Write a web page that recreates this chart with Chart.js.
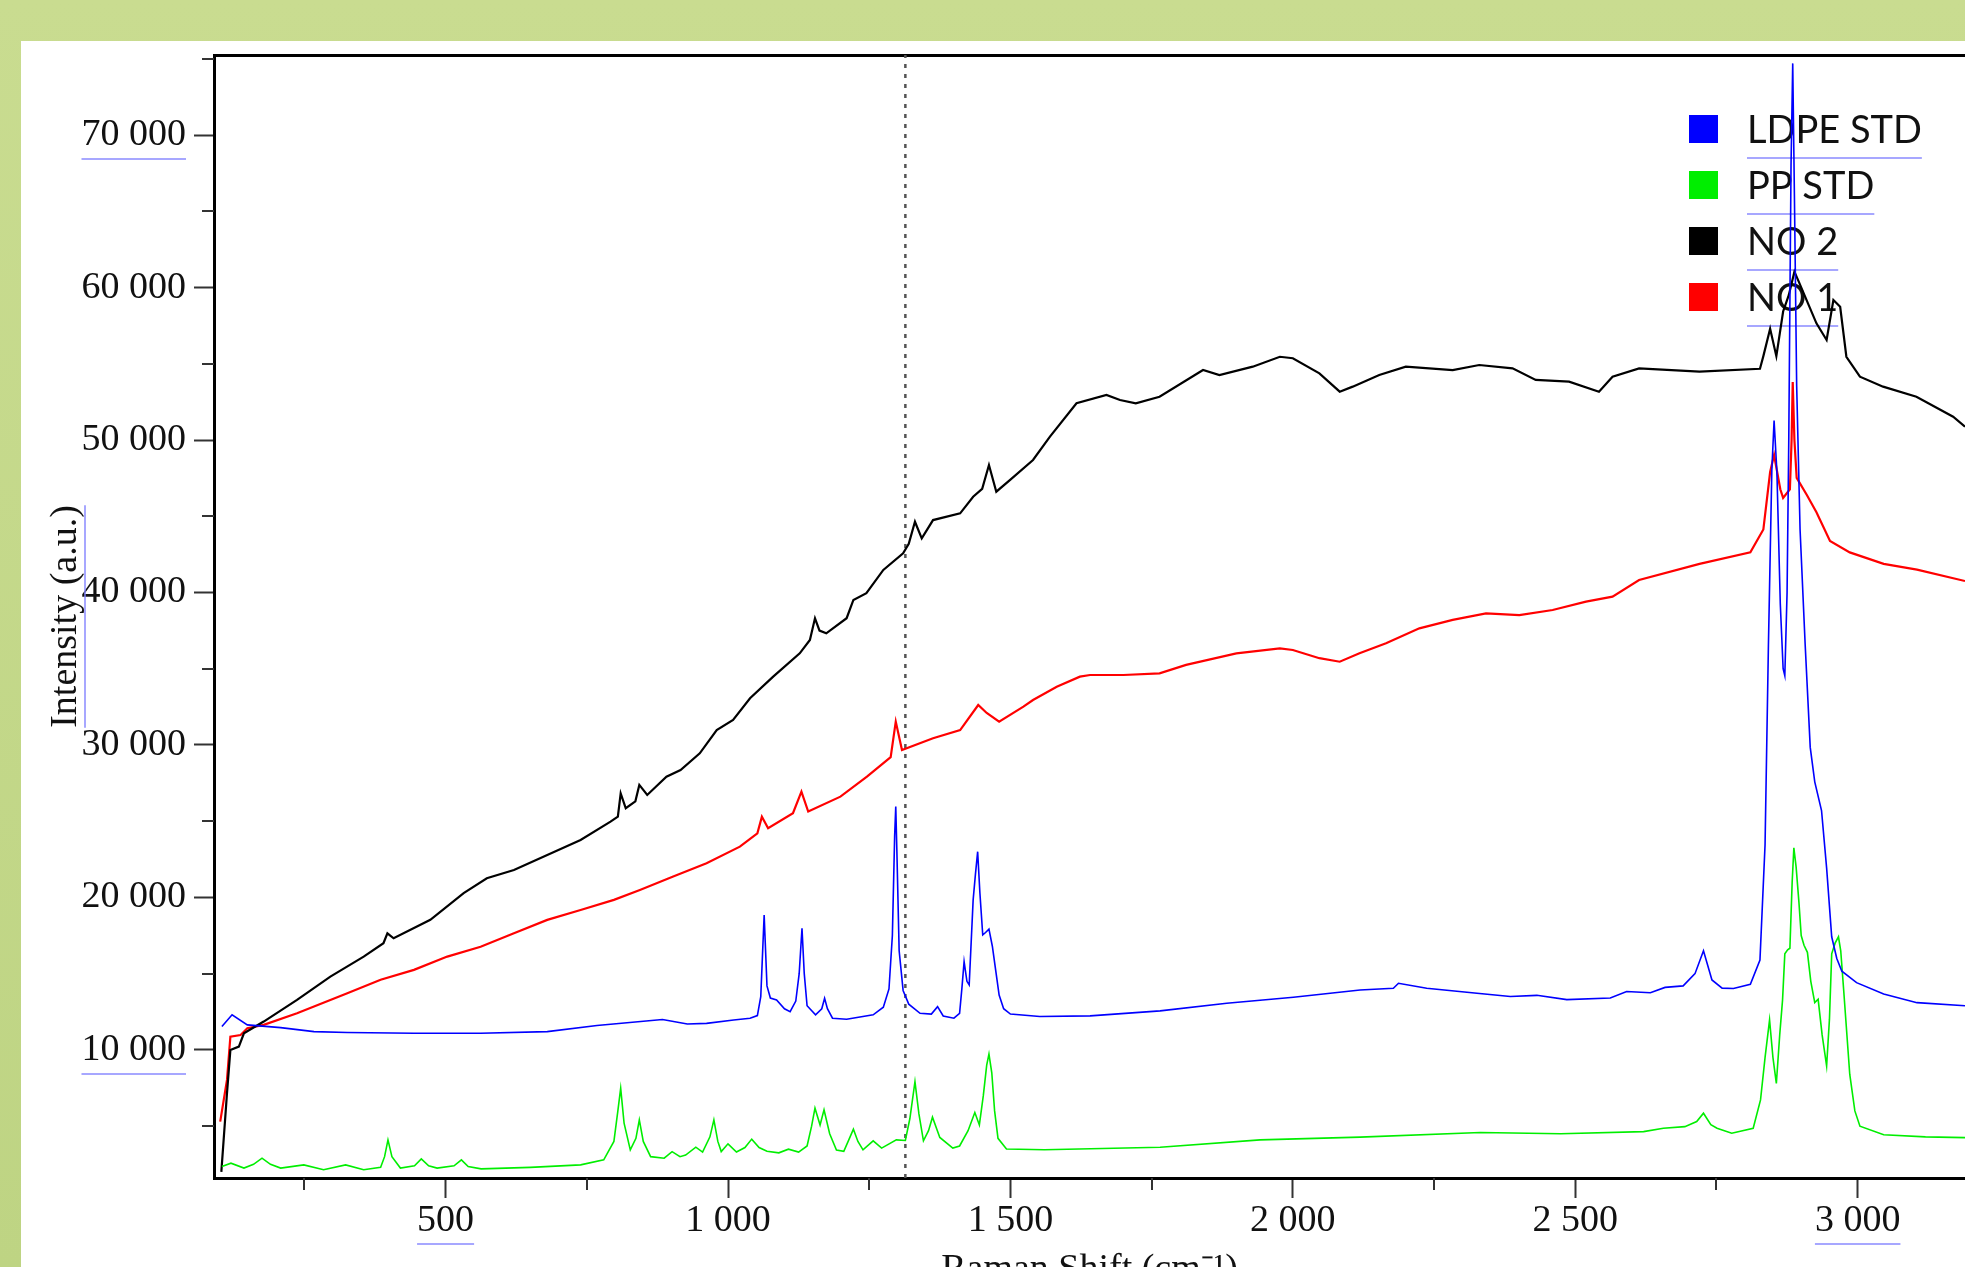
<!DOCTYPE html>
<html>
<head>
<meta charset="utf-8">
<title>Raman spectra</title>
<script src="https://cdn.jsdelivr.net/npm/chart.js@4.4.1/dist/chart.umd.min.js"></script>
<style>
  html, body { margin: 0; padding: 0; overflow: hidden; }
  body { width: 1965px; height: 1267px; position: relative;
         background: linear-gradient(180deg, #c9dc90 0%, #bed483 100%); }
  #sheet { position: absolute; left: 21px; top: 41px; right: 0; bottom: 0; background: #fff; }
  #spectra { position: absolute; left: 0; top: 0; }
</style>
</head>
<body>
<div id="sheet"></div>
<canvas id="spectra" width="1965" height="1267"></canvas>
<script>
// Raman shift (cm-1), intensity (a.u.)
const ldpe = [[104,11530],[122,12300],[149,11640],[208,11460],[267,11200],[326,11140],[444,11090],[562,11090],[680,11200],[768,11600],[884,11990],[928,11700],[962,11740],[1010,11960],[1039,12080],[1052,12250],[1058,13500],[1064,18850],[1069,14200],[1075,13400],[1086,13280],[1100,12700],[1110,12510],[1120,13200],[1126,15000],[1131,17980],[1135,15000],[1140,12900],[1155,12300],[1166,12700],[1171,13390],[1176,12700],[1185,12080],[1210,12010],[1257,12300],[1275,12800],[1285,14000],[1291,17500],[1295,24000],[1297,25960],[1299,23000],[1303,16500],[1310,13900],[1320,13000],[1340,12400],[1360,12350],[1371,12840],[1381,12230],[1400,12080],[1410,12400],[1414,14000],[1418,15790],[1423,14500],[1427,14260],[1434,19840],[1438,21500],[1442,23000],[1446,20280],[1451,17540],[1456,17700],[1462,17920],[1468,16800],[1474,15200],[1480,13600],[1488,12700],[1500,12350],[1552,12190],[1641,12230],[1765,12560],[1883,13060],[2001,13450],[2119,13930],[2178,14040],[2187,14370],[2237,14040],[2326,13720],[2385,13500],[2432,13580],[2485,13300],[2562,13400],[2591,13830],[2633,13750],[2659,14100],[2691,14200],[2712,15000],[2727,16500],[2742,14590],[2760,14050],[2780,14030],[2810,14300],[2827,15900],[2836,23440],[2842,36600],[2848,48000],[2852,51280],[2857,47900],[2863,39240],[2868,35000],[2871,34540],[2875,40000],[2878,50000],[2882,68000],[2885,74700],[2888,66000],[2892,53540],[2898,44130],[2907,36610],[2916,29840],[2924,27580],[2936,25700],[2945,21940],[2954,17420],[2963,16000],[2972,15160],[2998,14410],[3046,13660],[3105,13100],[3190,12900]];

const pp = [[104,2350],[120,2570],[143,2250],[160,2500],[175,2900],[190,2500],[208,2250],[249,2460],[284,2140],[323,2460],[355,2140],[385,2300],[392,3000],[398,4100],[405,3000],[420,2250],[445,2400],[457,2850],[470,2400],[485,2250],[515,2400],[528,2790],[540,2350],[563,2200],[650,2300],[739,2460],[780,2790],[798,4000],[805,6000],[810,7490],[816,5200],[827,3440],[837,4200],[843,5410],[850,4000],[863,3000],[887,2900],[901,3330],[915,3000],[925,3100],[943,3620],[955,3300],[968,4300],[975,5410],[982,4000],[988,3330],[1000,3840],[1015,3300],[1030,3600],[1042,4150],[1055,3600],[1069,3350],[1090,3250],[1107,3490],[1125,3300],[1140,3700],[1148,5000],[1154,6180],[1163,5080],[1170,6070],[1180,4500],[1192,3440],[1205,3350],[1215,4200],[1222,4800],[1230,4000],[1239,3450],[1257,4040],[1272,3560],[1298,4100],[1314,4060],[1322,5500],[1331,7920],[1338,5800],[1346,4040],[1355,4700],[1362,5590],[1375,4260],[1398,3560],[1410,3700],[1425,4700],[1437,5890],[1445,5080],[1452,7000],[1458,9000],[1462,9730],[1467,8500],[1472,6000],[1478,4200],[1493,3500],[1560,3450],[1765,3620],[1942,4100],[2119,4280],[2332,4580],[2474,4500],[2621,4640],[2656,4860],[2694,4970],[2715,5300],[2727,5850],[2740,5100],[2751,4860],[2777,4540],[2815,4860],[2828,6720],[2836,9500],[2844,11970],[2850,9500],[2856,7800],[2862,11000],[2867,13280],[2871,16300],[2876,16560],[2880,16670],[2884,21000],[2887,23250],[2891,22000],[2896,19680],[2900,17500],[2905,16860],[2911,16400],[2917,14500],[2924,13100],[2930,13320],[2937,11000],[2945,8950],[2950,12000],[2954,16300],[2960,17000],[2966,17420],[2970,16500],[2975,14030],[2986,8390],[2995,6000],[3004,5000],[3046,4440],[3120,4300],[3190,4250]];

const no2 = [[103,2000],[113,7160],[119,10000],[134,10220],[143,11090],[178,11860],[237,13280],[296,14810],[355,16120],[390,17000],[397,17650],[408,17320],[473,18530],[532,20280],[573,21260],[621,21800],[680,22790],[739,23770],[792,24970],[805,25300],[810,26830],[819,25850],[836,26300],[843,27380],[857,26720],[891,27920],[916,28360],[950,29450],[980,30980],[1009,31640],[1039,33060],[1080,34480],[1127,36010],[1145,36890],[1154,38310],[1162,37500],[1174,37320],[1210,38310],[1222,39510],[1245,39950],[1275,41480],[1310,42570],[1320,43200],[1331,44640],[1343,43550],[1363,44750],[1411,45190],[1434,46280],[1450,46800],[1462,48360],[1475,46610],[1500,47400],[1540,48690],[1570,50220],[1617,52410],[1670,52950],[1694,52620],[1722,52410],[1764,52840],[1841,54590],[1870,54260],[1929,54810],[1977,55460],[2000,55360],[2047,54370],[2083,53170],[2106,53500],[2153,54260],[2200,54810],[2283,54590],[2330,54920],[2389,54700],[2430,53940],[2489,53830],[2542,53170],[2566,54150],[2613,54700],[2720,54480],[2827,54670],[2833,55500],[2845,57300],[2856,55500],[2868,58430],[2878,59500],[2888,61040],[2897,60270],[2912,58960],[2927,57650],[2945,56560],[2957,59180],[2969,58740],[2980,55460],[3004,54150],[3045,53500],[3104,52840],[3169,51530],[3190,50870]];

const no1 = [[101,5300],[113,8030],[119,10870],[137,10980],[149,11420],[178,11640],[237,12400],[326,13720],[385,14600],[444,15250],[503,16120],[562,16770],[621,17650],[680,18530],[739,19180],[798,19840],[844,20490],[903,21370],[962,22240],[1021,23330],[1052,24200],[1060,25300],[1071,24540],[1115,25520],[1130,26940],[1142,25630],[1199,26610],[1246,27920],[1288,29200],[1297,31530],[1308,29670],[1363,30440],[1411,30980],[1443,32620],[1458,32100],[1480,31530],[1523,32510],[1540,32950],[1582,33820],[1623,34480],[1641,34590],[1700,34590],[1764,34700],[1811,35250],[1900,36010],[1977,36340],[2000,36230],[2047,35690],[2083,35460],[2118,36010],[2165,36670],[2224,37650],[2283,38200],[2342,38630],[2401,38520],[2460,38850],[2519,39400],[2566,39730],[2613,40820],[2720,41880],[2810,42630],[2833,44130],[2845,47900],[2852,49020],[2863,46770],[2868,46200],[2880,46770],[2883,50000],[2885,53800],[2888,50000],[2892,47520],[2910,46390],[2927,45260],[2951,43380],[2986,42630],[3046,41880],[3105,41500],[3190,40750]];

// dotted marker line
const markerShift = 1314;

// ticks
const xMajor = [500, 1000, 1500, 2000, 2500, 3000];
const xMinor = [250, 750, 1250, 1750, 2250, 2750];
const yMajor = [10000, 20000, 30000, 40000, 50000, 60000, 70000];
const yMinor = [5000, 15000, 25000, 35000, 45000, 55000, 65000, 75000];
const xMarked = [500, 3000];
const yMarked = [70000, 10000];

const X_MIN = 90, X_MAX = 3190, Y_MIN = 1600, Y_MAX = 75250;
const serif = {family: '"Liberation Serif", "Times New Roman", serif', size: 38};
const markBlue = 'rgba(130,130,255,0.7)';

function fmt(v) {
    return String(v).replace(/\B(?=(\d{3})+(?!\d))/g, ' ');
}
function pts(list) {
    return list.map(p => ({x: p[0], y: p[1]}));
}

// small outer ticks between the labelled ones
const minorTicks = {
    id: 'minorTicks',
    afterDraw(chart) {
        const {ctx, chartArea, scales: {x, y}} = chart;
        ctx.save();
        ctx.strokeStyle = '#333';
        ctx.lineWidth = 2;
        ctx.beginPath();
        yMinor.forEach(v => {
            const py = Math.round(y.getPixelForValue(v));
            ctx.moveTo(chartArea.left - 12, py);
            ctx.lineTo(chartArea.left, py);
        });
        xMinor.forEach(v => {
            const px = Math.round(x.getPixelForValue(v));
            ctx.moveTo(px, chartArea.bottom);
            ctx.lineTo(px, chartArea.bottom + 12);
        });
        ctx.stroke();
        ctx.restore();
    }
};

// the faint blue underlines that show in the source picture
const underlines = {
    id: 'underlines',
    afterDraw(chart) {
        const {ctx, chartArea, scales: {x, y}} = chart;
        ctx.save();
        ctx.strokeStyle = markBlue;
        ctx.lineWidth = 2;
        ctx.font = '38px "Liberation Serif"';
        ctx.beginPath();
        yMarked.forEach(v => {
            const w = ctx.measureText(fmt(v)).width;
            const py = y.getPixelForValue(v) + 24;
            const r = chartArea.left - 28;
            ctx.moveTo(r - w, py);
            ctx.lineTo(r, py);
        });
        xMarked.forEach(v => {
            const w = ctx.measureText(fmt(v)).width;
            const px = x.getPixelForValue(v);
            const py = chartArea.bottom + 66;
            ctx.moveTo(px - w / 2, py);
            ctx.lineTo(px + w / 2, py);
        });
        const tw = ctx.measureText(y.options.title.text).width;
        const cy = (chartArea.top + chartArea.bottom) / 2;
        ctx.moveTo(y.left + 64, cy - tw / 2);
        ctx.lineTo(y.left + 64, cy + tw / 2);
        ctx.stroke();
        ctx.restore();
    }
};

// legend inside the plot, drawn under the spectra
const boxLegend = {
    id: 'boxLegend',
    beforeDatasetsDraw(chart) {
        const {ctx, chartArea} = chart;
        const left = chartArea.right - 276;
        ctx.save();
        ctx.font = '38px Lato, "Open Sans", sans-serif';
        ctx.textBaseline = 'middle';
        chart.data.datasets.slice(0, 4).forEach((ds, i) => {
            const cy = chartArea.top + 74 + i * 56;
            ctx.fillStyle = ds.borderColor;
            ctx.fillRect(left, cy - 14, 29, 28);
            ctx.fillStyle = '#111';
            ctx.fillText(ds.label, left + 58, cy + 2);
            const w = ctx.measureText(ds.label).width;
            ctx.strokeStyle = markBlue;
            ctx.lineWidth = 2;
            ctx.beginPath();
            ctx.moveTo(left + 58, cy + 29);
            ctx.lineTo(left + 58 + w, cy + 29);
            ctx.stroke();
        });
        ctx.restore();
    }
};

let ctx = document.getElementById('spectra');
let spectraChart = new Chart(ctx, {
    type: 'line',
    data: {
        datasets: [{
            label: 'LDPE STD',
            data: pts(ldpe),
            borderColor: '#0000ff',
            borderWidth: 1.6
        }, {
            label: 'PP STD',
            data: pts(pp),
            borderColor: '#00ee00',
            borderWidth: 1.6
        }, {
            label: 'NO 2',
            data: pts(no2),
            borderColor: '#000000',
            borderWidth: 2.2
        }, {
            label: 'NO 1',
            data: pts(no1),
            borderColor: '#ff0000',
            borderWidth: 2.2
        }, {
            label: 'marker',
            data: [{x: markerShift, y: Y_MIN}, {x: markerShift, y: Y_MAX}],
            borderColor: '#555555',
            borderWidth: 2.5,
            borderDash: [4, 6]
        }]
    },
    options: {
        responsive: false,
        animation: false,
        events: [],
        devicePixelRatio: 1,
        elements: {
            point: {radius: 0},
            line: {tension: 0, fill: false}
        },
        layout: {padding: {left: 21, top: 55, right: 0, bottom: 0}},
        plugins: {
            legend: {display: false},
            tooltip: {enabled: false}
        },
        scales: {
            x: {
                type: 'linear',
                min: X_MIN,
                max: X_MAX,
                afterBuildTicks: s => { s.ticks = xMajor.map(v => ({value: v})); },
                afterFit: s => { s.height = 89; },
                ticks: {
                    callback: v => fmt(v),
                    font: serif,
                    color: '#111',
                    padding: 0,
                    maxRotation: 0,
                    autoSkip: false
                },
                grid: {drawOnChartArea: false, tickLength: 20, tickWidth: 2, tickColor: '#333'},
                border: {color: '#000', width: 3},
                title: {
                    display: true,
                    text: 'Raman Shift (cm\u207B\u00B9)',
                    font: serif,
                    color: '#111',
                    padding: {top: 0, bottom: -26}
                }
            },
            x2: {
                type: 'linear',
                position: 'top',
                min: X_MIN,
                max: X_MAX,
                afterFit: s => { s.height = 0; },
                ticks: {display: false},
                grid: {display: false, drawTicks: false},
                border: {color: '#000', width: 3}
            },
            y: {
                type: 'linear',
                min: Y_MIN,
                max: Y_MAX,
                afterBuildTicks: s => { s.ticks = yMajor.map(v => ({value: v})); },
                afterFit: s => { s.width = 193; },
                ticks: {
                    callback: v => fmt(v),
                    font: serif,
                    color: '#111',
                    padding: 8
                },
                grid: {drawOnChartArea: false, tickLength: 20, tickWidth: 2, tickColor: '#333'},
                border: {color: '#000', width: 3},
                title: {
                    display: true,
                    text: 'Intensity (a.u.)',
                    font: serif,
                    color: '#111',
                    padding: {top: 22, bottom: 0}
                }
            }
        }
    },
    plugins: [boxLegend, minorTicks, underlines]
});
</script>
</body>
</html>
